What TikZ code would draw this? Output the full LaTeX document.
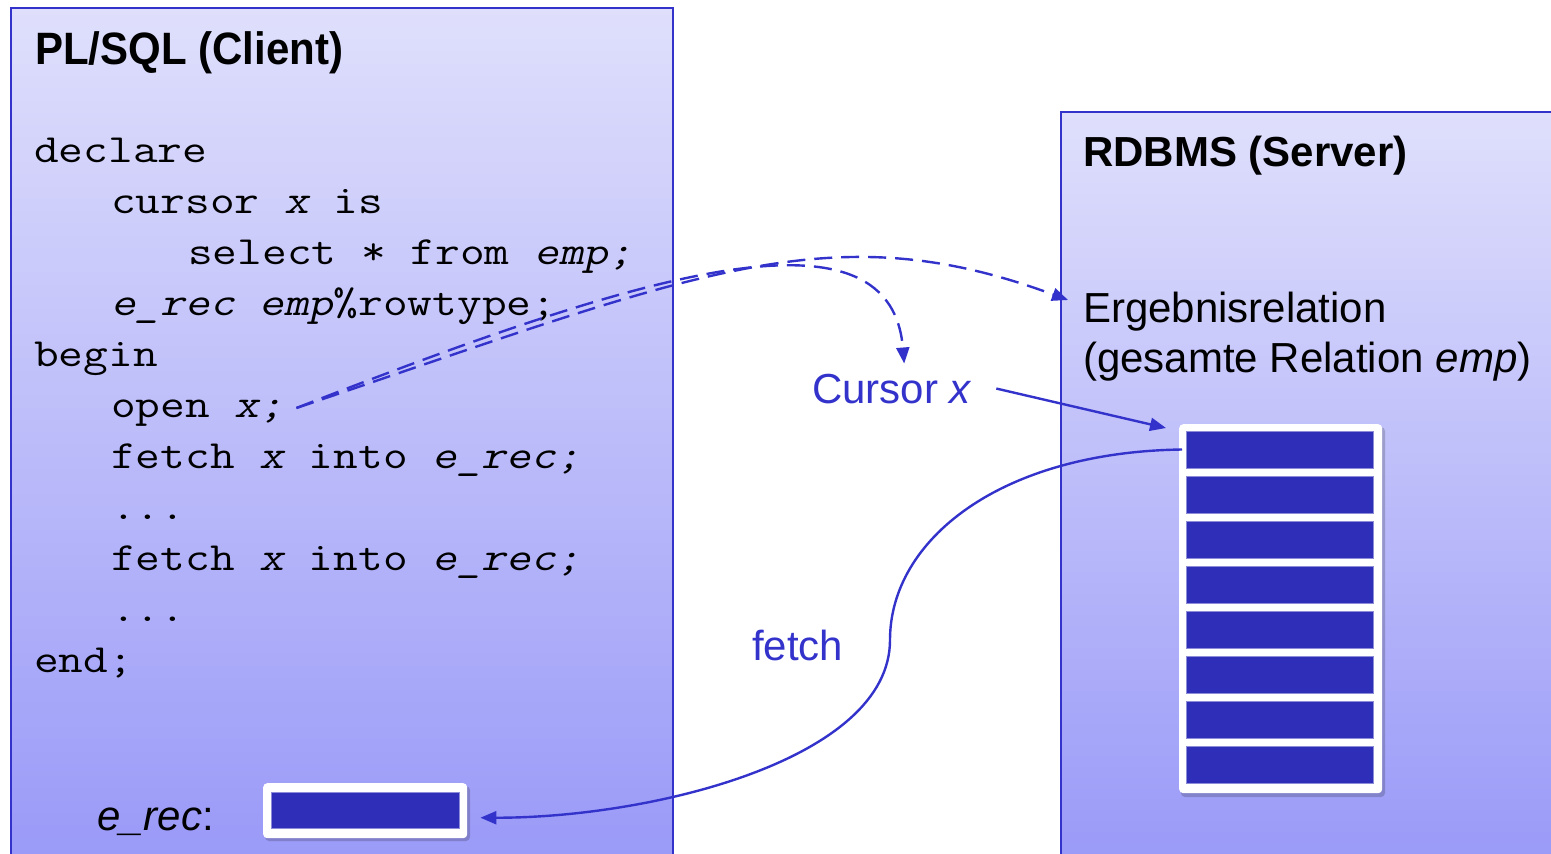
\documentclass[tikz,border=0pt]{standalone}
\usepackage{fontspec}
\setmainfont{Liberation Sans}
\setmonofont{Latin Modern Mono}[FakeStretch=1.2]
\newfontfamily\codeslantfont{Latin Modern Mono}[FakeStretch=1.2,FakeSlant=0.22]
\newcommand{\codeit}[1]{{\codeslantfont #1}}
\usetikzlibrary{arrows.meta,calc}
\definecolor{lineblue}{RGB}{51,51,204}
\definecolor{rowblue}{RGB}{46,46,184}
\definecolor{boxtop}{RGB}{223,223,252}
\definecolor{boxbot}{RGB}{152,152,248}
\begin{document}
\begin{tikzpicture}[x=1pt,y=-1pt,
  panel/.style={draw=lineblue,line width=2pt,top color=boxtop,bottom color=boxbot},
  code/.style={anchor=base west,inner sep=0pt,font=\ttfamily\fontsize{40}{51}\selectfont},
  title/.style={anchor=base west,inner sep=0pt,font=\bfseries\fontsize{42}{50}\selectfont},
  label/.style={anchor=base west,inner sep=0pt,font=\fontsize{42}{50}\selectfont},
  bluelabel/.style={label,text=lineblue},
  holder/.style={draw=none,fill=white,rounded corners=4pt,inner sep=0pt,minimum width=0pt},
  rowbox/.style={fill=rowblue,draw=rowblue!55!white,line width=0.8pt},
  conn/.style={draw=lineblue,line width=2.4pt,-{Triangle[length=16pt,width=13pt]}},
  dashconn/.style={conn,dash pattern=on 18pt off 9pt}]
\useasboundingbox (0,0) rectangle (1551,854);
\begin{scope}
\clip (0,0) rectangle (1551,854);
% panels
\path[panel] (11,8) rectangle (673,880);
\path[panel] (1061,112) rectangle (1580,880);
\end{scope}
% titles
\node[title,yscale=1.08] (ttlclient) at (35,64) {PL/SQL (Client)};
\node[title] (ttlserver) at (1083,166) {RDBMS (Server)};
% code
\node[code] (l1) at (34,162) {declare};
\node[code] (l2) at (111,213) {cursor \codeit{x} is};
\node[code] (l3) at (188,264) {select * from \codeit{emp;}};
\node[code] (l4) at (111,315) {\codeit{e\_rec emp}\%rowtype;};
\node[code] (l5) at (34,366) {begin};
\node[code] (l6) at (111,417) {open \codeit{x;}};
\node[code] (l7) at (111,468) {fetch \codeit{x} into \codeit{e\_rec;}};
\node[code] (l8) at (111,519) {...};
\node[code] (l9) at (111,570) {fetch \codeit{x} into \codeit{e\_rec;}};
\node[code] (l10) at (111,621) {...};
\node[code] (l11) at (34,672) {end;};
% server labels
\node[label] (erg) at (1083,322) {Ergebnisrelation};
\node[label] (erg2) at (1083,372) {(gesamte Relation \textit{emp})};
\node[bluelabel] (cur) at (812,403) {Cursor \textit{x}};
\node[bluelabel] (fetchlbl) at (752,660) {fetch};
\node[label] (ereclbl) at (97,830) {\textit{e\_rec}:};
% result stack
\fill[black,opacity=0.18,rounded corners=4pt] (1181,427) rectangle (1385,797);
\node[holder,minimum width=203pt,minimum height=369pt,anchor=north west] (stack) at (1179,424) {};
\foreach \i in {1,...,8}{
  \path[rowbox] (1186,{431+45*(\i-1)}) rectangle (1373,{468+45*(\i-1)});
  \coordinate (row\i) at (1186,{449.5+45*(\i-1)});
}
% e_rec holder
\fill[black,opacity=0.18,rounded corners=4pt] (265,786) rectangle (470,841);
\node[holder,minimum width=204pt,minimum height=55pt,anchor=north west] (erecbox) at (263,783) {};
\path[rowbox] (271,792) rectangle (459,828);
% connectors
\coordinate (openx) at ([shift={(12,-9)}]l6.base east);
\coordinate (ergtip) at ([shift={(-15,-22)}]erg.base west);
\coordinate (curtip) at ([shift={(12,-10)}]cur.north);
\draw[dashconn] (openx) .. controls (698,272) and (830,212) .. (ergtip);
\draw[dashconn] (openx) .. controls (620,282) and (890,192) .. (curtip);
\draw[conn] ([xshift=24pt]cur.east) -- ([shift={(-13,4)}]stack.north west);
\coordinate (fetchstart) at ([xshift=-4pt]row1);
\draw[conn] (fetchstart) .. controls (1000,452) and (890,540) .. (890,640)
  .. controls (890,760) and (650,818) .. ([shift={(13,7)}]erecbox.east);
\end{tikzpicture}
\end{document}
